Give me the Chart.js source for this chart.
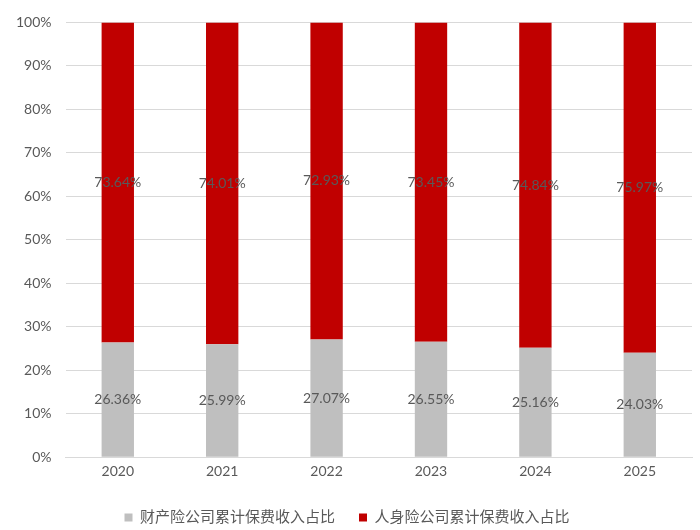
<!DOCTYPE html>
<html>
<head>
<meta charset="utf-8">
<script src="https://cdn.jsdelivr.net/npm/chart.js@4"></script>
<style>
  html, body { margin: 0; padding: 0; background: #fff; }
  #wrap { width: 700px; height: 530px; }
</style>
</head>
<body>
<div id="wrap"><canvas id="c" width="700" height="530"></canvas></div>
<script>
// data
const years = ['2020', '2021', '2022', '2023', '2024', '2025'];
const propertyShare = [26.36, 25.99, 27.07, 26.55, 25.16, 24.03];
const lifeShare = [73.64, 74.01, 72.93, 73.45, 74.84, 75.97];
const seriesNames = ['财产险公司累计保费收入占比', '人身险公司累计保费收入占比'];

const FONT = "Lato, 'Noto Sans CJK SC', sans-serif";
const TEXT = '#595959';

// small inline plugin: value label centred in each bar segment
const segLabels = {
  id: 'segLabels',
  afterDatasetsDraw(chart) {
    const ctx = chart.ctx;
    ctx.save();
    ctx.font = '14px ' + FONT;
    ctx.fillStyle = TEXT;
    ctx.textAlign = 'center';
    ctx.textBaseline = 'middle';
    chart.data.datasets.forEach((ds, i) => {
      chart.getDatasetMeta(i).data.forEach((bar, j) => {
        const p = bar.getProps(['x', 'y', 'base'], true);
        ctx.fillText(ds.data[j].toFixed(2) + '%', p.x, (p.y + p.base) / 2);
      });
    });
    ctx.restore();
  }
};

new Chart(document.getElementById('c'), {
  type: 'bar',
  data: {
    labels: years,
    datasets: [
      { label: seriesNames[0], data: propertyShare, backgroundColor: '#bfbfbf' },
      { label: seriesNames[1], data: lifeShare, backgroundColor: '#c00000' }
    ]
  },
  options: {
    responsive: false,
    animation: false,
    layout: { padding: { left: 2, right: 8, top: 8, bottom: -5 } },
    datasets: { bar: { categoryPercentage: 1, barPercentage: 0.31 } },
    scales: {
      x: {
        stacked: true,
        grid: { display: false, drawTicks: false },
        border: { color: '#d9d9d9' },
        ticks: { color: TEXT, font: { family: FONT, size: 14 }, padding: 6 }
      },
      y: {
        stacked: true,
        min: 0, max: 100,
        grid: { color: '#d9d9d9', drawTicks: false },
        border: { display: false },
        ticks: {
          stepSize: 10,
          color: TEXT,
          font: { family: FONT, size: 14 },
          padding: 14,
          callback: v => v + '%'
        }
      }
    },
    plugins: {
      legend: {
        position: 'bottom',
        labels: {
          color: TEXT,
          font: { family: FONT, size: 15 },
          boxWidth: 8, boxHeight: 8,
          padding: 24
        }
      },
      tooltip: { enabled: false }
    }
  },
  plugins: [segLabels]
});
</script>
</body>
</html>
